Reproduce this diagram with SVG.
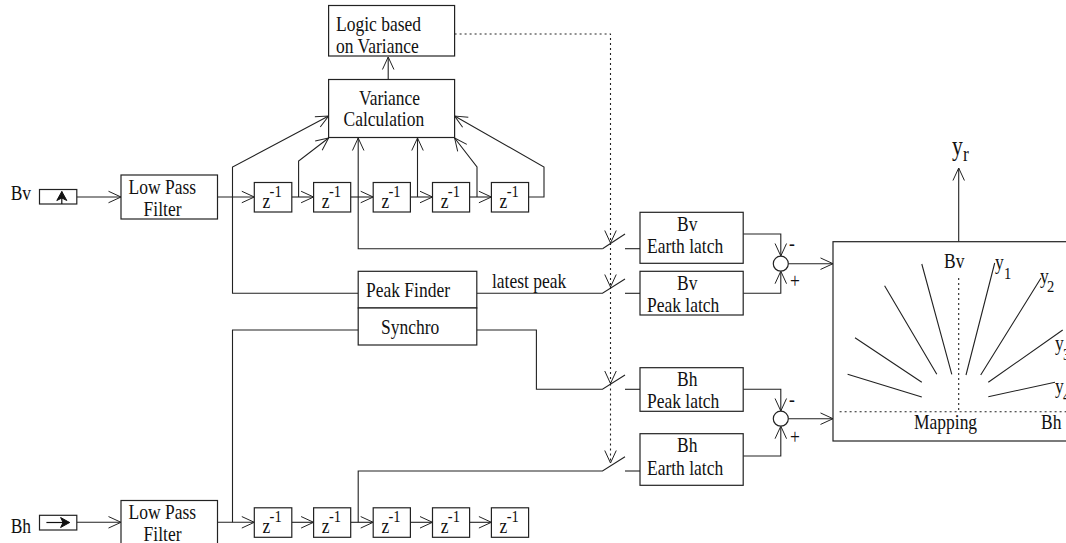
<svg xmlns="http://www.w3.org/2000/svg" width="1066" height="543" viewBox="0 0 1066 543">
<defs>
<style>
text{font-family:"Liberation Serif","Times New Roman",serif;font-size:21px;fill:#111;transform-box:fill-box;transform-origin:left center;transform:scaleX(.833)}
text.sup{font-size:17.5px}
text.big{font-size:27px;transform:scaleX(.8)}
rect,circle{fill:#fff;stroke:#222;stroke-width:1.2}
.c path{fill:none;stroke:#222;stroke-width:1.1}
.c path.d{stroke-dasharray:2 3}
</style>
<marker id="a" markerUnits="userSpaceOnUse" markerWidth="16" markerHeight="14" refX="13.500" refY="7" orient="auto"><path d="M1,1.250L13.500,7L1,12.750" fill="none" stroke="#222" stroke-width="1"/></marker>
<marker id="h" markerUnits="userSpaceOnUse" markerWidth="12" markerHeight="12" refX="10" refY="6" orient="auto"><path d="M1,1L10,6L1,11L3.500,6Z" fill="#111" stroke="#111" stroke-width="1"/></marker>
</defs>
<g id="connectors" class="c">
<path d="M76.800,197H121" marker-end="url(#a)"/>
<path d="M217.500,197H254.300" marker-end="url(#a)"/>
<path d="M291.800,197H313.600" marker-end="url(#a)"/>
<path d="M350.700,197H373.200" marker-end="url(#a)"/>
<path d="M410.400,197H432.500" marker-end="url(#a)"/>
<path d="M469.600,197H491.400" marker-end="url(#a)"/>
<path d="M358.200,293.300H232.500V167L328.600,116" marker-end="url(#a)"/>
<path d="M298.600,197V161L328.600,138" marker-end="url(#a)"/>
<path d="M417.500,197V138" marker-end="url(#a)"/>
<path d="M477,197V167L454.600,138" marker-end="url(#a)"/>
<path d="M528.600,197H544V167L454.600,116" marker-end="url(#a)"/>
<path d="M388.200,79.500V57" marker-end="url(#a)"/>
<path d="M602.500,248.700H358.200V138" marker-end="url(#a)"/>
<path d="M602.500,248.700L625,234"/>
<path d="M625,248.700H640"/>
<path d="M476.800,293.300H602.500L625,279"/>
<path d="M625,293.300H640"/>
<path d="M358.200,330H232.500V522.300"/>
<path d="M476.800,330H536.400V389.300H602.500L625,375"/>
<path d="M625,389.300H640"/>
<path d="M358.200,522.300V471H602.500L625,456.700"/>
<path d="M625,471H640"/>
<path d="M76.800,522.300H121" marker-end="url(#a)"/>
<path d="M217.500,522.300H254.300" marker-end="url(#a)"/>
<path d="M291.800,522.300H313.600" marker-end="url(#a)"/>
<path d="M350.700,522.300H373.200" marker-end="url(#a)"/>
<path d="M410.400,522.300H432.500" marker-end="url(#a)"/>
<path d="M469.600,522.300H491.400" marker-end="url(#a)"/>
<path class="d" d="M454.600,34H610.500V243" marker-end="url(#a)"/>
<path class="d" d="M610.500,243V287" marker-end="url(#a)"/>
<path class="d" d="M610.500,287V383.500" marker-end="url(#a)"/>
<path class="d" d="M610.500,383.500V463" marker-end="url(#a)"/>
<path d="M743.200,234H780.800V256" marker-end="url(#a)"/>
<path d="M743.200,293.300H780.800V271.200" marker-end="url(#a)"/>
<path d="M743.200,389.300H780.800V411" marker-end="url(#a)"/>
<path d="M743.200,456H780.800V426.200" marker-end="url(#a)"/>
<path d="M788.300,263.700H833" marker-end="url(#a)"/>
<path d="M788.300,418.700H833" marker-end="url(#a)"/>
<path d="M958.700,241.700V168" marker-end="url(#a)"/>
</g>
<g id="input-bv"><rect x="39.500" y="189.500" width="37.300" height="14.500"/><path d="M61.800,204V191.500" stroke="#111" stroke-width="1.200" fill="none" marker-end="url(#h)"/><text x="10.700" y="200">Bv</text></g>
<g id="input-bh"><rect x="39.500" y="515.300" width="37.300" height="14.700"/><path d="M46.400,522.500H69.600" stroke="#111" stroke-width="1.200" fill="none" marker-end="url(#h)"/><text x="10.700" y="533">Bh</text></g>
<g id="lpf-v"><rect x="121" y="175" width="96.500" height="44"/><text x="128.600" y="194">Low Pass</text><text x="143.600" y="216">Filter</text></g>
<g id="lpf-h"><rect x="121" y="500.500" width="96.500" height="44"/><text x="128.600" y="519.500">Low Pass</text><text x="143.600" y="541">Filter</text></g>
<g id="logic"><rect x="328.600" y="5.500" width="126" height="50.500"/><text x="336" y="31.500">Logic based</text><text x="336" y="52.700">on Variance</text></g>
<g id="variance"><rect x="328.600" y="79.500" width="126" height="58"/><text x="359" y="105">Variance</text><text x="343.600" y="126.500">Calculation</text></g>
<g id="z1v"><rect x="254.300" y="182.500" width="37.500" height="29.500"/><text x="262.500" y="208">z</text><text class="sup" x="269.600" y="197">-1</text></g>
<g id="z2v"><rect x="313.600" y="182.500" width="37.100" height="29.500"/><text x="321.800" y="208">z</text><text class="sup" x="328.900" y="197">-1</text></g>
<g id="z3v"><rect x="373.200" y="182.500" width="37.200" height="29.500"/><text x="381.400" y="208">z</text><text class="sup" x="388.500" y="197">-1</text></g>
<g id="z4v"><rect x="432.500" y="182.500" width="37.100" height="29.500"/><text x="440.700" y="208">z</text><text class="sup" x="447.800" y="197">-1</text></g>
<g id="z5v"><rect x="491.400" y="182.500" width="37.200" height="29.500"/><text x="499.600" y="208">z</text><text class="sup" x="506.700" y="197">-1</text></g>
<g id="z1h"><rect x="254.300" y="507.800" width="37.500" height="29.500"/><text x="262.500" y="533.300">z</text><text class="sup" x="269.600" y="522.300">-1</text></g>
<g id="z2h"><rect x="313.600" y="507.800" width="37.100" height="29.500"/><text x="321.800" y="533.300">z</text><text class="sup" x="328.900" y="522.300">-1</text></g>
<g id="z3h"><rect x="373.200" y="507.800" width="37.200" height="29.500"/><text x="381.400" y="533.300">z</text><text class="sup" x="388.500" y="522.300">-1</text></g>
<g id="z4h"><rect x="432.500" y="507.800" width="37.100" height="29.500"/><text x="440.700" y="533.300">z</text><text class="sup" x="447.800" y="522.300">-1</text></g>
<g id="z5h"><rect x="491.400" y="507.800" width="37.200" height="29.500"/><text x="499.600" y="533.300">z</text><text class="sup" x="506.700" y="522.300">-1</text></g>
<g id="peak-finder"><rect x="358.200" y="271.300" width="118.600" height="36.700"/><text x="366" y="296.700">Peak Finder</text></g>
<g id="synchro"><rect x="358.200" y="308" width="118.600" height="37"/><text x="381" y="334">Synchro</text></g>
<text x="492" y="288">latest peak</text>
<g id="bv-earth"><rect x="640" y="212.300" width="103.200" height="51"/><text x="677" y="231">Bv</text><text x="647" y="252.700">Earth latch</text></g>
<g id="bv-peak"><rect x="640" y="271.300" width="103.200" height="43.700"/><text x="677" y="290">Bv</text><text x="647" y="311.700">Peak latch</text></g>
<g id="bh-peak"><rect x="640" y="367.700" width="103.200" height="43.600"/><text x="677" y="386">Bh</text><text x="647" y="407.700">Peak latch</text></g>
<g id="bh-earth"><rect x="640" y="433.700" width="103.200" height="51.600"/><text x="677" y="451.700">Bh</text><text x="647" y="474.700">Earth latch</text></g>
<g id="sum1"><circle cx="780.800" cy="263.700" r="7.500"/><text x="789" y="250">-</text><text x="790" y="288">+</text></g>
<g id="sum2"><circle cx="780.800" cy="418.700" r="7.500"/><text x="789" y="406">-</text><text x="790" y="444">+</text></g>
<g id="mapping">
<rect x="833" y="241.700" width="260" height="199.300"/>
<g class="c">
<path class="d" d="M958.700,278V411.700"/>
<path class="d" d="M839.600,411.700H1066"/>
<path d="M966,375L994.700,263M980.700,375L1041,278M988.300,382.300L1062.700,330M988.300,396.700L1055,382.300M951.800,374.300L921.800,264M936.800,374.300L884.600,285.700M921.800,382.300L855,337.700M921.800,397L847.600,374.300"/>
</g>
<text x="944" y="267.700">Bv</text>
<text x="995" y="269">y</text><text class="sup" x="1004" y="279.300">1</text>
<text x="1040" y="283">y</text><text class="sup" x="1047" y="292">2</text>
<text x="1055" y="350">y</text><text class="sup" x="1063" y="360">3</text>
<text x="1055" y="393">y</text><text class="sup" x="1063" y="402">4</text>
<text x="914" y="429.500">Mapping</text><text x="1041" y="429.500">Bh</text>
</g>
<g id="output"><text class="big" x="952" y="155">y</text><text x="963" y="161">r</text></g>
</svg>
